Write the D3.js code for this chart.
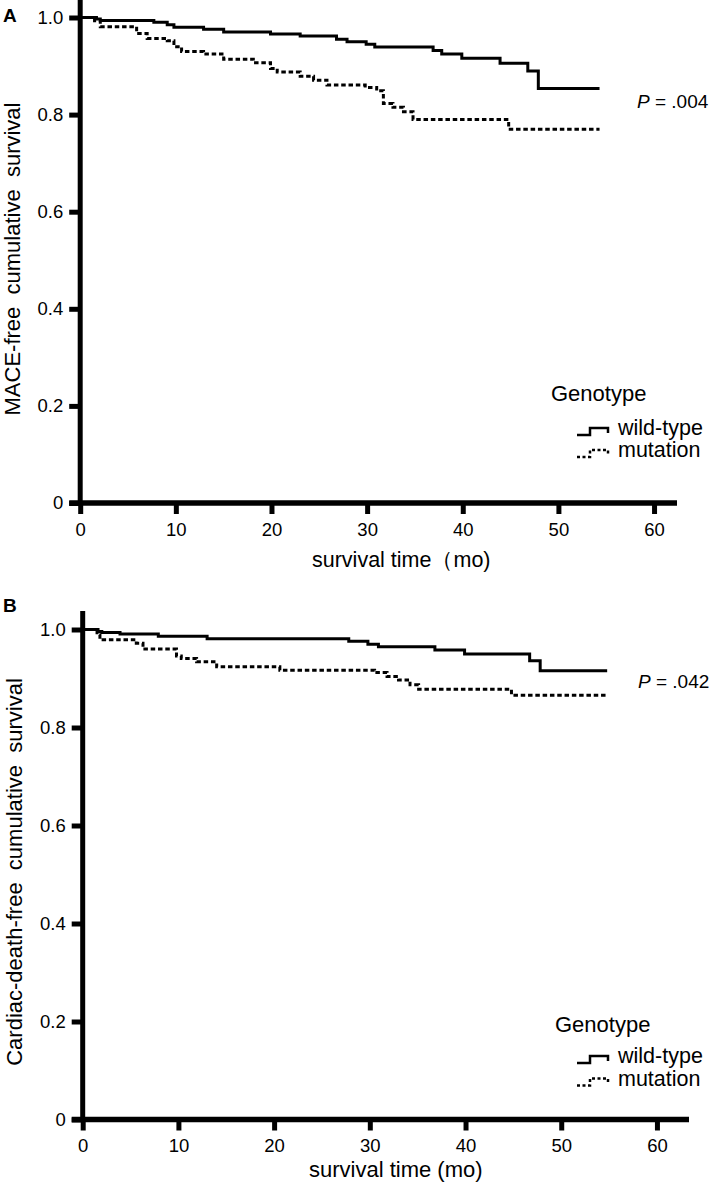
<!DOCTYPE html>
<html><head><meta charset="utf-8">
<script src="https://cdn.jsdelivr.net/npm/d3@7"></script>
<style>
html,body{margin:0;padding:0;background:#fff;}
svg{display:block;}
text{font-family:"Liberation Sans",Arial,Helvetica,sans-serif;fill:#000;white-space:pre;}
</style></head><body>
<svg id="chart" width="709" height="1183"></svg>
<script>
// ---- data ----
const xTicks = [0, 10, 20, 30, 40, 50, 60];
const yTicks = [0, 0.2, 0.4, 0.6, 0.8, 1.0];
const yTickLabels = ["0", "0.2", "0.4", "0.6", "0.8", "1.0"];
const seriesNames = ["wild-type", "mutation"];
const legendTitle = "Genotype";
const panelLetters = ["A", "B"];
const yTitles = ["MACE-free  cumulative  survival", "Cardiac-death-free  cumulative  survival"];
const xTitles = ["survival time\uFF08mo)", "survival time (mo)"];
const pValues = [".004", ".042"];

// Panel A (MACE-free survival)
const aWildTime = [0, 1.7, 2.1, 7.7, 9.1, 9.8, 12.9, 15.0, 19.9, 23.0, 26.8, 27.9, 29.9, 30.8, 36.9, 37.8, 39.9, 43.9, 46.8, 47.9, 54.3];
const aWildSurv = [1.0, 0.997, 0.994, 0.990, 0.985, 0.980, 0.976, 0.970, 0.966, 0.962, 0.955, 0.950, 0.945, 0.939, 0.932, 0.925, 0.916, 0.906, 0.890, 0.854, 0.854];
const aMutTime = [0, 1.5, 2.1, 5.9, 7.0, 9.1, 9.8, 10.6, 12.9, 15.0, 18.1, 19.9, 20.6, 23.0, 24.4, 25.8, 29.8, 31.0, 31.7, 32.7, 33.8, 34.8, 44.8, 54.3];
const aMutSurv = [1.0, 0.9935, 0.981, 0.967, 0.957, 0.952, 0.940, 0.930, 0.925, 0.914, 0.907, 0.895, 0.888, 0.879, 0.871, 0.861, 0.856, 0.849, 0.823, 0.815, 0.806, 0.790, 0.770, 0.770];

// Panel B (cardiac-death-free survival)
const bWildTime = [0, 1.6, 2.0, 3.9, 7.9, 13.0, 27.8, 29.8, 30.9, 36.8, 39.9, 46.7, 47.8, 54.8];
const bWildSurv = [1.0, 0.996, 0.994, 0.991, 0.986, 0.981, 0.976, 0.970, 0.965, 0.958, 0.950, 0.936, 0.916, 0.916];
const bMutTime = [0, 1.5, 1.8, 5.6, 6.3, 9.8, 10.3, 11.9, 14.0, 20.6, 30.5, 31.8, 33.0, 34.2, 35.1, 44.8, 54.8];
const bMutSurv = [1.0, 0.989, 0.979, 0.972, 0.960, 0.946, 0.941, 0.934, 0.924, 0.917, 0.912, 0.904, 0.897, 0.887, 0.878, 0.866, 0.866];

// ---- layout ----
const layouts = [
  {x0: 80.2, x1: 677, xMax: 62.4, yBottom: 503, yTop: -4, yOneAt: 17.5,
   letterY: 21.5, pX: 637, pY: 108, legX: 551, legSymX: 577, legTitleY: 401, legRow1: 435, legRow2: 457,
   xTitleX: 312, xTitleY: 566.5, xTitleSize: 21.5, yTitleX: 20, yTitleY: 259},
  {x0: 82.7, x1: 689, xMax: 63.35, yBottom: 1119.5, yTop: 611, yOneAt: 629.5,
   letterY: 611.5, pX: 638, pY: 688, legX: 555, legSymX: 577, legTitleY: 1031.5, legRow1: 1063, legRow2: 1085.5,
   xTitleX: 309, xTitleY: 1176.5, xTitleSize: 22, yTitleX: 21.7, yTitleY: 872}
];
const panelData = [
  [{t: aWildTime, s: aWildSurv}, {t: aMutTime, s: aMutSurv}],
  [{t: bWildTime, s: bWildSurv}, {t: bMutTime, s: bMutSurv}]
];

const svg = d3.select("#chart");
const dashes = [null, "4.5,2.8"];

layouts.forEach((L, pi) => {
  const g = svg.append("g");
  const x = d3.scaleLinear().domain([0, L.xMax]).range([L.x0, L.x1]);
  const y = d3.scaleLinear().domain([0, 1]).range([L.yBottom, L.yOneAt]);

  // y axis
  const yAx = g.append("g").attr("transform", `translate(${L.x0},0)`)
    .call(d3.axisLeft(y).tickValues(yTicks).tickFormat((d, i) => yTickLabels[i]).tickSize(11).tickPadding(6).tickSizeOuter(0));
  yAx.select(".domain").remove();
  yAx.selectAll(".tick line").attr("stroke", "#000").attr("stroke-width", 5);
  yAx.selectAll(".tick text").attr("font-size", 18.5).attr("font-family", "Liberation Sans, Arial, sans-serif");

  // x axis
  const xAx = g.append("g").attr("transform", `translate(0,${L.yBottom})`)
    .call(d3.axisBottom(x).tickValues(xTicks).tickFormat(d3.format("d")).tickSize(11).tickPadding(8.5).tickSizeOuter(0));
  xAx.select(".domain").remove();
  xAx.selectAll(".tick line").attr("stroke", "#000").attr("stroke-width", 5);
  xAx.selectAll(".tick text").attr("font-size", 18.5).attr("font-family", "Liberation Sans, Arial, sans-serif");

  // axis lines
  g.append("line").attr("x1", L.x0).attr("x2", L.x0).attr("y1", L.yTop).attr("y2", L.yBottom + 2.5)
    .attr("stroke", "#000").attr("stroke-width", 5);
  g.append("line").attr("x1", L.x0 - 11).attr("x2", L.x1).attr("y1", L.yBottom).attr("y2", L.yBottom)
    .attr("stroke", "#000").attr("stroke-width", 5.5);

  // curves
  const line = d3.line().x(d => x(d[0])).y(d => y(d[1])).curve(d3.curveStepAfter);
  panelData[pi].forEach((ser, si) => {
    const pts = ser.t.map((t, i) => [t, ser.s[i]]);
    g.append("path").attr("d", line(pts)).attr("fill", "none").attr("stroke", "#000")
      .attr("stroke-width", 3).attr("stroke-dasharray", dashes[si]);
  });

  // panel letter
  g.append("text").attr("x", 3).attr("y", L.letterY).attr("font-size", 19).attr("font-weight", "bold").text(panelLetters[pi]);

  // P value
  const pt = g.append("text").attr("x", L.pX).attr("y", L.pY).attr("font-size", 19);
  pt.append("tspan").attr("font-style", "italic").text("P");
  pt.append("tspan").text(" = " + pValues[pi]);

  // axis titles
  g.append("text").attr("x", L.xTitleX).attr("y", L.xTitleY).attr("font-size", L.xTitleSize).text(xTitles[pi]);
  g.append("text").attr("transform", `translate(${L.yTitleX},${L.yTitleY}) rotate(-90)`)
    .attr("text-anchor", "middle").attr("font-size", 22).text(yTitles[pi]);

  // legend
  g.append("text").attr("x", L.legX).attr("y", L.legTitleY).attr("font-size", 22).text(legendTitle);
  [L.legRow1, L.legRow2].forEach((ry, si) => {
    const sx = L.legSymX;
    const sym = d3.path();
    sym.moveTo(sx, ry); sym.lineTo(sx + 13, ry); sym.lineTo(sx + 13, ry - 7);
    sym.lineTo(sx + 31, ry - 7); sym.lineTo(sx + 31, ry - 2);
    g.append("path").attr("d", sym.toString()).attr("fill", "none").attr("stroke", "#000")
      .attr("stroke-width", 2.5).attr("stroke-dasharray", si === 1 ? "3,2.5" : null);
    g.append("text").attr("x", sx + 41).attr("y", ry).attr("font-size", 21.5).text(seriesNames[si]);
  });
});
</script>
</body></html>
